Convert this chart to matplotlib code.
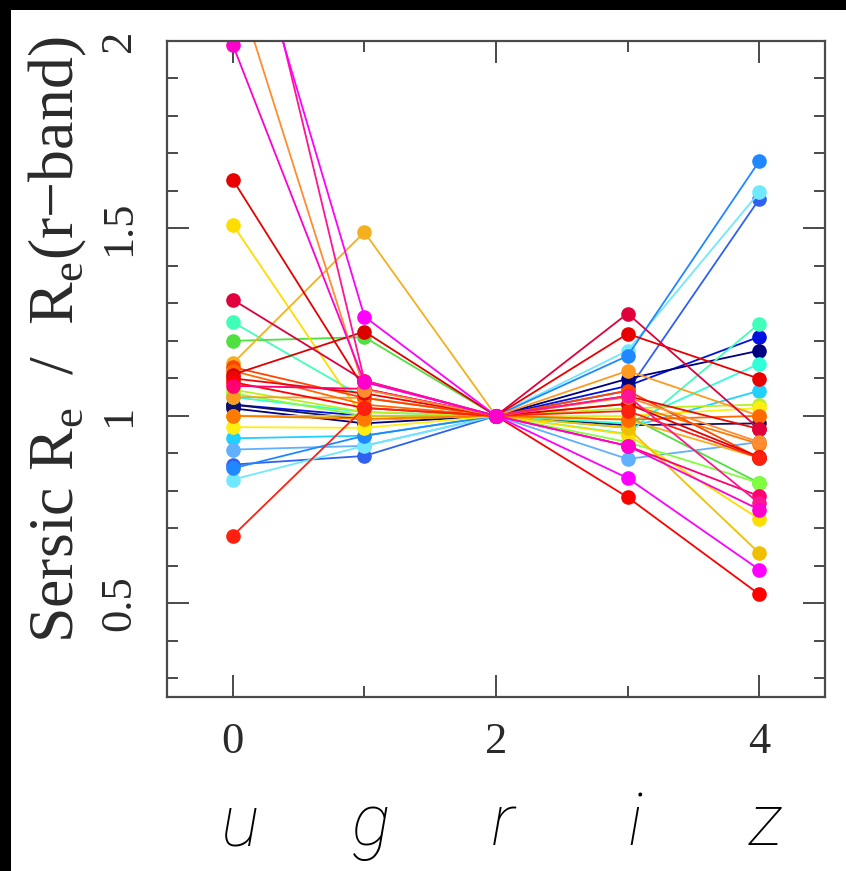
import matplotlib
matplotlib.use("Agg")
import matplotlib.pyplot as plt
import matplotlib.transforms as mtransforms
from matplotlib.patches import Rectangle
from matplotlib.ticker import MultipleLocator

plt.rcParams["font.family"] = ["Liberation Serif", "DejaVu Serif"]
plt.rcParams["mathtext.fontset"] = "custom"
plt.rcParams["mathtext.rm"] = "Liberation Serif"

bands = ["u", "g", "r", "i", "z"]
band_x = [0, 1, 2, 3, 4]

# Sersic Re in each band divided by the r-band Re, one entry per galaxy
re_u = [0.94, 0.91, 0.87, 0.83, 0.86, 1.03, 1.02, 1.03, 1.25, 1.05,
        1.20, 1.06, 1.07, 0.97, 1.51, 1.00, 1.00, 1.05, 1.14, 1.13,
        1.12, 1.11, 1.10, 1.63, 1.09, 0.68, 1.31, 1.08, 2.18, 2.56,
        2.45, 1.99]
re_g = [0.947, 0.920, 0.893, 0.920, 0.947, 1.000, 0.980, 0.990, 1.048, 1.010,
        1.210, 1.000, 1.010, 0.968, 0.990, 1.000, 0.992, 1.048, 1.490, 1.048,
        1.030, 1.225, 1.060, 1.072, 1.021, 1.021, 1.094, 1.072, 1.070, 1.094,
        1.265, 1.090]
re_r = [1.0] * len(re_u)
re_i = [0.968, 0.885, 1.067, 1.174, 1.160, 1.080, 1.099, 0.975, 0.952, 0.980,
        1.000, 0.930, 1.020, 1.000, 0.950, 0.968, 1.032, 1.120, 0.990, 1.067,
        0.990, 1.032, 1.053, 1.219, 0.783, 1.013, 1.273, 0.920, 1.050, 1.053,
        0.834, 0.920]
re_z = [1.067, 0.930, 1.578, 1.596, 1.679, 1.211, 1.174, 0.980, 1.246, 1.139,
        0.821, 0.821, 1.030, 1.021, 0.725, 0.634, 0.925, 1.000, 0.888, 0.888,
        1.000, 0.890, 0.965, 1.099, 0.524, 0.888, 0.965, 0.786, 0.930, 0.767,
        0.590, 0.750]
galaxy_colors = ["#20d0ff", "#60b0ff", "#3060f0", "#70e8ff", "#2088ff",
                 "#0010e0", "#000080", "#101060", "#40ffb8", "#30ffd8",
                 "#50e040", "#80ff40", "#b8f020", "#ffee10", "#ffdd00",
                 "#f0c000", "#ff7a00", "#ff9a20", "#f5b020", "#ff4400",
                 "#ff6a00", "#dd0000", "#e80808", "#e80000", "#ff0000",
                 "#ff2010", "#e0003c", "#ff0070", "#ff8c30", "#ff1493",
                 "#ff00ff", "#ff00cc"]

fig = plt.figure(figsize=(8.46, 8.71), dpi=100, facecolor="black")
fig.add_artist(Rectangle((11 / 846, 0), 835 / 846, 861 / 871,
                         transform=fig.transFigure, facecolor="white",
                         edgecolor="none", zorder=0))

ax = fig.add_axes([167 / 846, 174 / 871, 658 / 846, 656 / 871])
ax.set_facecolor("white")

for k, c in enumerate(galaxy_colors):
    vals = [re_u[k], re_g[k], re_r[k], re_i[k], re_z[k]]
    ax.plot(band_x, vals, "-o", color=c, lw=1.3, ms=9.5, mec=c, zorder=2)
# the shared r-band point, drawn on top
ax.plot([band_x[2]], [re_r[-1]], "o", color=galaxy_colors[-1], ms=10, zorder=3)

ax.set_xlim(-0.5, 4.5)
ax.set_ylim(0.25, 2.0)
ax.xaxis.set_major_locator(MultipleLocator(2))
ax.xaxis.set_minor_locator(MultipleLocator(1))
ax.yaxis.set_minor_locator(MultipleLocator(0.1))
ax.set_yticks([0.5, 1.0, 1.5, 2.0])
ax.set_yticklabels(["0.5", "1", "1.5", "2"])

for s in ax.spines.values():
    s.set_color("#4a4a4a")
    s.set_linewidth(1.6)
ax.tick_params(which="both", direction="in", top=True, right=True,
               color="#4a4a4a", width=1.4, labelcolor="#2a2a2a")
ax.tick_params(which="major", length=16)
ax.tick_params(which="minor", length=8)
ax.tick_params(axis="x", labelsize=32, pad=18)
ax.tick_params(axis="y", labelsize=32, pad=20, labelrotation=90)
for lab in ax.get_yticklabels():
    lab.set_verticalalignment("center")

fig.text(58 / 846, 1 - 340 / 871,
         r"Sersic R$_{\rm e}$  /  R$_{\rm e}$(r$-$band)",
         rotation=90, ha="center", va="center", fontsize=46, color="#2a2a2a")

# band names under the axis
trans = mtransforms.blended_transform_factory(ax.transData, fig.transFigure)
for x, b in zip(band_x, bands):
    ax.text(x + 0.05, 1 - 845 / 871, b, transform=trans, ha="center",
            va="baseline", fontsize=52, style="italic", weight="light",
            color="black", family=["Roboto", "DejaVu Sans"])

fig.savefig("out.png", dpi=100, facecolor=fig.get_facecolor())
